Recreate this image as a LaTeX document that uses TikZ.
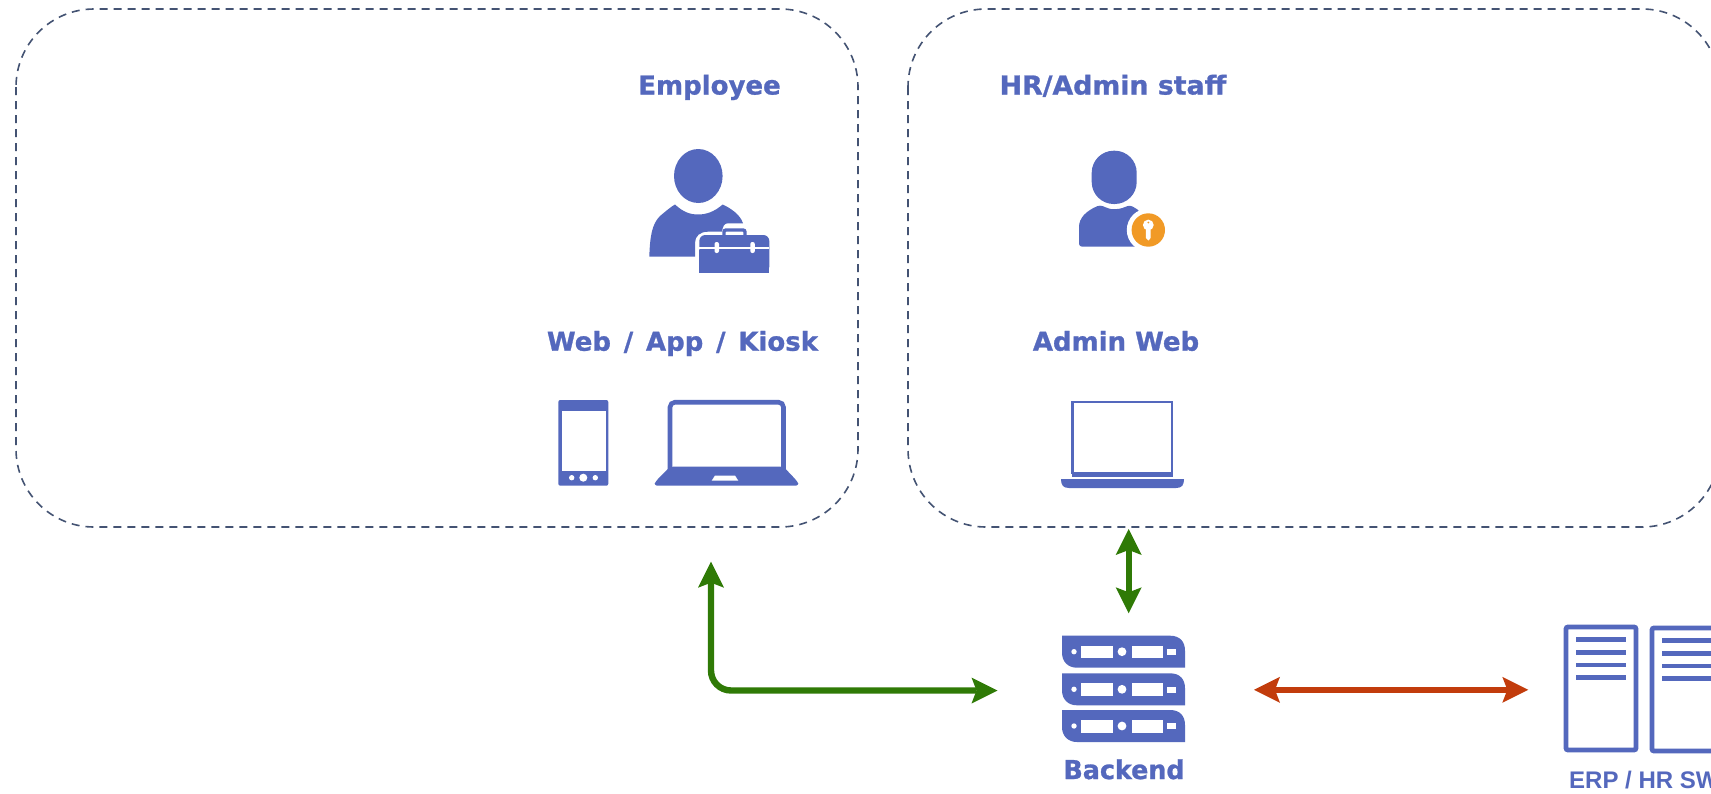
\documentclass[tikz,border=0pt]{standalone}
\usepackage{fontspec}
\setmainfont{DejaVu Sans}[BoldFeatures={FakeBold=1}]
\newfontfamily\erpfont{Liberation Sans}
\usetikzlibrary{arrows.meta}
\definecolor{iconblue}{HTML}{5468BD}
\definecolor{dashnavy}{HTML}{445373}
\definecolor{arrgreen}{HTML}{2F7A06}
\definecolor{arrred}{HTML}{C23C0C}
\definecolor{keyorange}{HTML}{F19A26}
\tikzset{
  x=1pt,y=-1pt,
  zone/.style={draw=dashnavy,line width=1.6pt,dash pattern=on 8pt off 6pt},
  lbl/.style={text=iconblue,font=\fontsize{26}{30}\selectfont\bfseries,inner sep=0pt,anchor=base},
  ico/.style={fill=iconblue,draw=none},
  cut/.style={fill=white,draw=none},
  link/.style={line width=6.4pt,{Stealth[length=26pt,width=26pt,inset=5pt,line width=0pt]}-{Stealth[length=26pt,width=26pt,inset=5pt,line width=0pt]}},
}
\begin{document}
\begin{tikzpicture}
\useasboundingbox (0,0) rectangle (1711,793);
\fill[white] (0,0) rectangle (1711,793);
\begin{scope}
\clip (0,0) rectangle (1711,793);
\draw[zone,rounded corners=78pt] (16,9) rectangle (858,527);
\draw[zone,rounded corners=78pt] (908,9) rectangle (1720,527);
\end{scope}
% labels
\node[lbl] (employee) at (709.5,94.5) {Employee};
\node[lbl,xscale=1.03] (hr) at (1113,94.5) {HR/Admin staff};
\node[lbl] (webapp) at (682.5,350.7) {Web\hspace{3.7pt} /\hspace{3.7pt} App\hspace{3.7pt} /\hspace{3.7pt} Kiosk};
\node[lbl] (adminweb) at (1116,350.7) {Admin Web};
\node[lbl,xscale=0.975] (backend) at (1124,779) {Backend};
\node[text=iconblue,inner sep=0pt,anchor=base west,font=\erpfont\fontsize{24}{28}\selectfont\bfseries] (erp) at (1569,788.5) {ERP / HR SW};
% employee icon
\fill[ico] (698.3,176) ellipse (24.3 and 27);
\fill[ico] (649.3,256.7) .. controls (650,236) and (652,224) .. (660,216) .. controls (666,211) and (672,206) .. (675,204.5) .. controls (683,212) and (690,214.5) .. (698,214.5) .. controls (706,214.5) and (714,212) .. (722.7,204.5) .. controls (730,208) and (740,214) .. (743,223.3) -- (728,223.3) .. controls (724,223.3) and (723,226) .. (722,231.7) -- (708,231.7) .. controls (700,231.7) and (695,236) .. (695,243) -- (695,256.7) -- cycle;
\fill[ico,rounded corners=6pt] (699.3,272.7) -- (699.3,235) -- (769.3,235) -- (769.3,272.7) -- cycle;
\fill[ico] (699.3,272.7) rectangle (769.3,250);
\draw[iconblue,line width=3.4pt,rounded corners=2pt] (724,237) -- (724,230) -- (745,230) -- (745,237);
\fill[cut] (699.3,246.5) rectangle (769.3,248.5);
\fill[cut,rounded corners=2pt] (714.5,242) rectangle (719,253);
\fill[cut,rounded corners=2pt] (750.3,242) rectangle (754.8,253);
% phone
\fill[ico,rounded corners=2pt] (558.3,400) rectangle (608.3,485.7);
\fill[cut] (561.7,411) rectangle (606,471);
\fill[cut] (571.7,477.7) circle (2.7);
\fill[cut] (583.3,477.7) circle (4);
\fill[cut] (595.3,477.7) circle (2.7);
% laptop
\draw[iconblue,line width=4.6pt,rounded corners=5pt] (670,472) -- (670,402.2) -- (783.5,402.2) -- (783.5,472);
\fill[ico,rounded corners=3pt] (670,466.7) -- (783.5,466.7) -- (797,481) .. controls (798.5,484) and (797,485.7) .. (793,485.7) -- (660,485.7) .. controls (656,485.7) and (654.5,484) .. (656,481) -- cycle;
\fill[cut] (715,475.5) -- (735,475.5) -- (738.3,480.7) -- (711.7,480.7) -- cycle;
% admin user
\fill[ico,rounded corners=22pt] (1091.7,150.7) rectangle (1136.7,204);
\fill[ico,rounded corners=3pt] (1079,246.7) -- (1079,230) .. controls (1079,218) and (1086,211) .. (1100,205) .. controls (1106,207.5) and (1110,209) .. (1114,209) .. controls (1120,209) and (1124,207.5) .. (1130,205) -- (1140,211) -- (1140,246.7) -- cycle;
\fill[cut] (1148.3,230) circle (21.5);
\fill[keyorange] (1148.3,230) circle (16.7);
\fill[cut] (1148.3,225) circle (5.4);
\fill[cut] (1145.9,226) -- (1150.7,226) -- (1150.7,238) -- (1148.3,240.5) -- (1145.9,238) -- cycle;
\fill[keyorange] (1148.3,222.5) circle (1);
% admin laptop
\draw[iconblue,line width=2.2pt] (1072.5,402) rectangle (1172,473);
\fill[ico] (1072,472) rectangle (1173,477);
\fill[ico] (1061,479) -- (1184,479) .. controls (1184,485) and (1182,488) .. (1176,488) -- (1069,488) .. controls (1063,488) and (1061,485) .. (1061,479) -- cycle;
% backend
\foreach \yy in {635.7,673.3,710}{
  \begin{scope}[shift={(0,\yy)}]
    \fill[ico] (1062,0) -- (1170,0) .. controls (1180,0) and (1185,6) .. (1185,15) -- (1185,32) -- (1077,32) .. controls (1068,32) and (1062,26) .. (1062,17) -- cycle;
    \fill[cut] (1074,16) circle (2.7);
    \fill[cut] (1081.3,10) rectangle (1112.7,22.6);
    \fill[cut] (1122,16) circle (4.4);
    \fill[cut] (1131.7,10) rectangle (1163.3,22.6);
    \fill[cut] (1167.3,13.3) rectangle (1175.7,19.3);
  \end{scope}
}
% servers
\draw[iconblue,line width=4.8pt,rounded corners=2pt] (1566,627) rectangle (1636,750);
\foreach \yy in {639.3,652.3,665,677.7}{\fill[ico] (1576,\yy-2.4) rectangle (1625.7,\yy+2.4);}
\draw[iconblue,line width=4.8pt,rounded corners=2pt] (1652,628) rectangle (1725,751);
\foreach \yy in {640.3,653.3,666,678.7}{\fill[ico] (1662.3,\yy-2.4) rectangle (1725,\yy+2.4);}
% connectors
\coordinate (toEmp) at (711,561.7);
\coordinate (fromBack) at (997.5,690.5);
\coordinate (adminTop) at (1128.7,529);
\coordinate (adminBot) at (1128.7,613.3);
\coordinate (backR) at (1254,689.8);
\coordinate (erpL) at (1528.3,689.8);
\draw[link,draw=arrgreen,rounded corners=20pt] (toEmp) -- (711,690.5) -- (fromBack);
\draw[link,draw=arrgreen] (adminTop) -- (adminBot);
\draw[link,draw=arrred] (backR) -- (erpL);
\end{tikzpicture}
\end{document}
